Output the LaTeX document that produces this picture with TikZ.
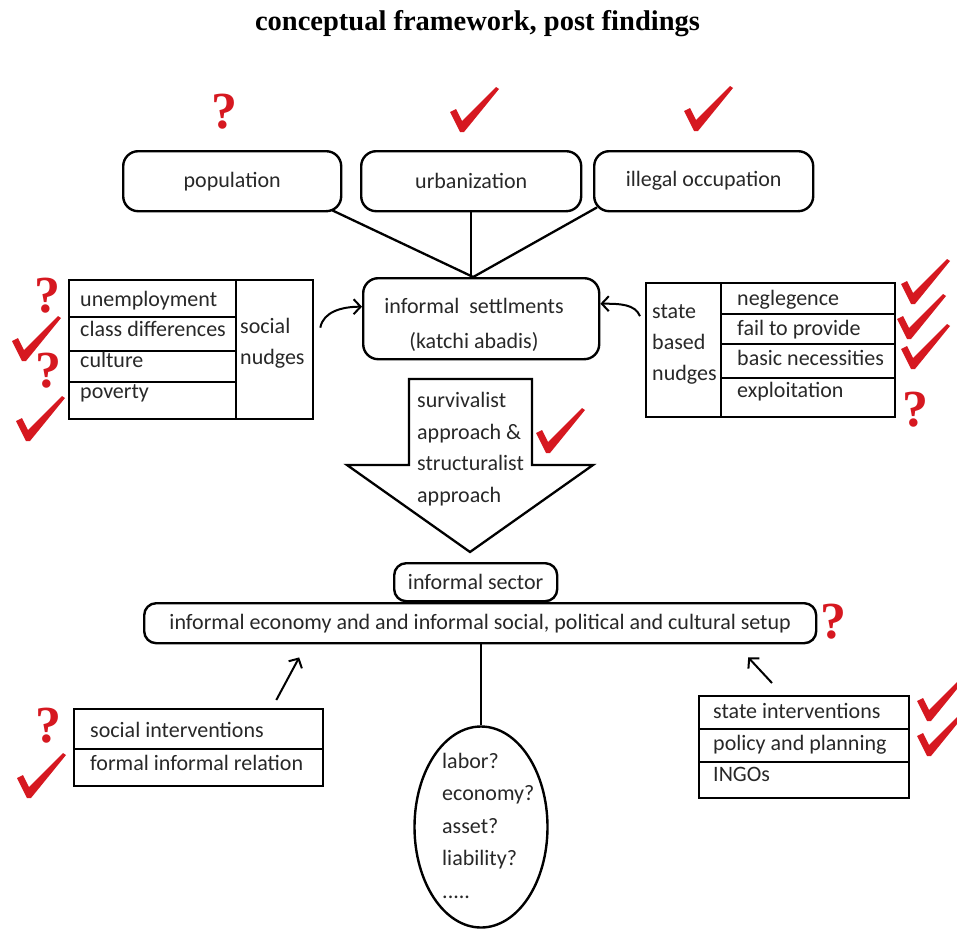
\documentclass[tikz,border=0pt]{standalone}
\usepackage{fontspec}
\setmainfont{Carlito}
\newfontfamily\titlefont{Liberation Serif}
\usetikzlibrary{arrows.meta,shapes.geometric}
\definecolor{chkred}{RGB}{214,24,32}
\definecolor{txt}{RGB}{40,40,40}
\newcommand\bodyfont{\fontsize{22}{31}\selectfont}
\begin{document}
\begin{tikzpicture}[x=1pt,y=-1pt,
  bx/.style={draw, line width=2.4pt, text=txt, font=\bodyfont},
  rbx/.style={bx, rounded corners=15pt, inner sep=0pt, anchor=north west},
  cell/.style={draw, line width=2.3pt, anchor=north west, inner sep=0pt},
  lbl/.style={anchor=base west, inner sep=0pt, text=txt, font=\bodyfont, align=left},
  conn/.style={line width=2.3pt},
  arr/.style={line width=2pt, -{Straight Barb[length=7pt,width=15pt]}},
  qm/.style={text=chkred, font=\titlefont\bfseries\fontsize{52}{52}\selectfont, inner sep=0pt},
  chk/.pic={\fill[chkred] (-11,-19) -- (-5,-22) -- (1,-10) -- (35,-44) -- (38,-42) -- (3,1) -- (-1,1) -- cycle;}
]
\fill[white] (0,0) rectangle (957,929);
\useasboundingbox (0,0) rectangle (957,929);

% title
\node[font=\titlefont\bfseries\fontsize{28.5}{30}\selectfont, anchor=base, inner sep=0pt] (title) at (477.5,30) {conceptual framework, post findings};

% top boxes
\node[rbx, minimum width=218, minimum height=60] (pop) at (122,150) {population};
\node[rbx, minimum width=220, minimum height=60] (urb) at (360,150) {urbanization};
\node[rbx, minimum width=219, minimum height=60] (ill) at (593,150) {illegal occupation};

% informal settlements
\node[rbx, minimum width=236, minimum height=81] (set) at (362,277) {};
\node[text=txt, font=\fontsize{22}{35}\selectfont, align=center, inner sep=0pt] (settxt) at (474,325) {informal~ settlments\\(katchi abadis)};

\draw[conn] ([xshift=-10pt,yshift=2pt]pop.south east) -- ([xshift=-8pt]set.north);
\draw[conn] (urb.south) -- (urb.south |- set.north);
\draw[conn] ([xshift=4pt,yshift=5pt]ill.south west) -- ([xshift=-8pt]set.north);

% left table: social nudges
\node[cell, minimum width=167, minimum height=37] (lt1) at (68,279) {};
\node[cell, minimum width=167, minimum height=34] (lt2) at (68,316) {};
\node[cell, minimum width=167, minimum height=31] (lt3) at (68,350) {};
\node[cell, minimum width=167, minimum height=37] (lt4) at (68,381) {};
\node[cell, minimum width=77, minimum height=139] (ltn) at (235,279) {};
\node[lbl] (lt1t) at (80,306) {unemployment};
\node[lbl] (lt2t) at (80,336) {class differences};
\node[lbl] (lt3t) at (80,367) {culture};
\node[lbl] (lt4t) at (80,398) {poverty};
\node[lbl] (ltnt) at (240,364) {social\\nudges};

% right table: state based nudges
\node[cell, minimum width=75, minimum height=134] (rtn) at (645,282) {};
\node[cell, minimum width=174, minimum height=31] (rt1) at (720,282) {};
\node[cell, minimum width=174, minimum height=30] (rt2) at (720,313) {};
\node[cell, minimum width=174, minimum height=34] (rt3) at (720,343) {};
\node[cell, minimum width=174, minimum height=39] (rt4) at (720,377) {};
\node[lbl] (rtnt) at (652,380) {state\\based\\nudges};
\node[lbl] (rt1t) at (737,305) {neglegence};
\node[lbl] (rt2t) at (737,335) {fail to provide};
\node[lbl] (rt3t) at (737,365) {basic necessities};
\node[lbl] (rt4t) at (737,397) {exploitation};

\draw[arr] ([xshift=6pt,yshift=22pt]ltn.east) .. controls +(3,-16) and +(-20,0) .. ([yshift=12pt]set.west);
\draw[arr] ([xshift=-5pt,yshift=34pt]rtn.west) .. controls +(-5,-12) and +(20,0) .. ([yshift=15pt]set.east);

% big down arrow
\draw[conn, line join=miter] (409,379) -- (532,379) -- (532,465) -- (593,465) -- (470,552) -- (347,465) -- (409,465) -- cycle;
\node[lbl, font=\fontsize{22}{31.5}\selectfont] (apptxt) at (417,502) {survivalist\\approach \&\\structuralist\\approach};

% informal sector
\node[rbx, rounded corners=12pt, minimum width=163, minimum height=38] (sec) at (393,562) {informal sector};
\node[rbx, rounded corners=12pt, minimum width=672, minimum height=40] (eco) at (143,602) {informal economy and and informal social, political and cultural setup};

% ellipse
\node[draw, ellipse, line width=2.4pt, minimum width=133, minimum height=201, inner sep=0pt] (ell) at (481,827) {};
\node[lbl, font=\fontsize{22}{32.5}\selectfont] (elltxt) at (442,898) {labor?\\economy?\\asset?\\liability?\\.....};
\draw[conn] (ell.north) -- (ell.north |- eco.south);

% bottom left table
\node[cell, minimum width=249, minimum height=40] (bl1) at (73,708) {};
\node[cell, minimum width=249, minimum height=37] (bl2) at (73,748) {};
\node[lbl] (bl1t) at (90,737) {social interventions};
\node[lbl] (bl2t) at (90,770) {formal informal relation};

% bottom right table
\node[cell, minimum width=210, minimum height=33] (br1) at (698,695) {};
\node[cell, minimum width=210, minimum height=33] (br2) at (698,728) {};
\node[cell, minimum width=210, minimum height=36] (br3) at (698,761) {};
\node[lbl] (br1t) at (713,718) {state interventions};
\node[lbl] (br2t) at (713,750) {policy and planning};
\node[lbl] (br3t) at (713,781) {INGOs};

\draw[arr] ([xshift=-48pt,yshift=8pt]bl1.north east) -- ([xshift=-181pt,yshift=-13pt]eco.south);
\draw[arr] ([xshift=74pt,yshift=12pt]br1.north west) -- ([xshift=268pt,yshift=-13pt]eco.south);

% red marks
\node[qm] (q1) at (224,112) {?};
\node[qm] (q2) at (47,296) {?};
\node[qm] (q3) at (48,371) {?};
\node[qm] (q4) at (915,410) {?};
\node[qm] (q5) at (833,622) {?};
\node[qm] (q6) at (48,726) {?};
\pic at (461,131) {chk};
\pic at (695,130) {chk};
\pic at (23,360) {chk};
\pic at (27,440) {chk};
\pic at (912,303) {chk};
\pic at (908,338) {chk};
\pic at (912,368) {chk};
\pic at (547,452) {chk};
\pic at (28,797) {chk};
\pic at (928,720) {chk};
\pic at (928,755) {chk};
\end{tikzpicture}
\end{document}
